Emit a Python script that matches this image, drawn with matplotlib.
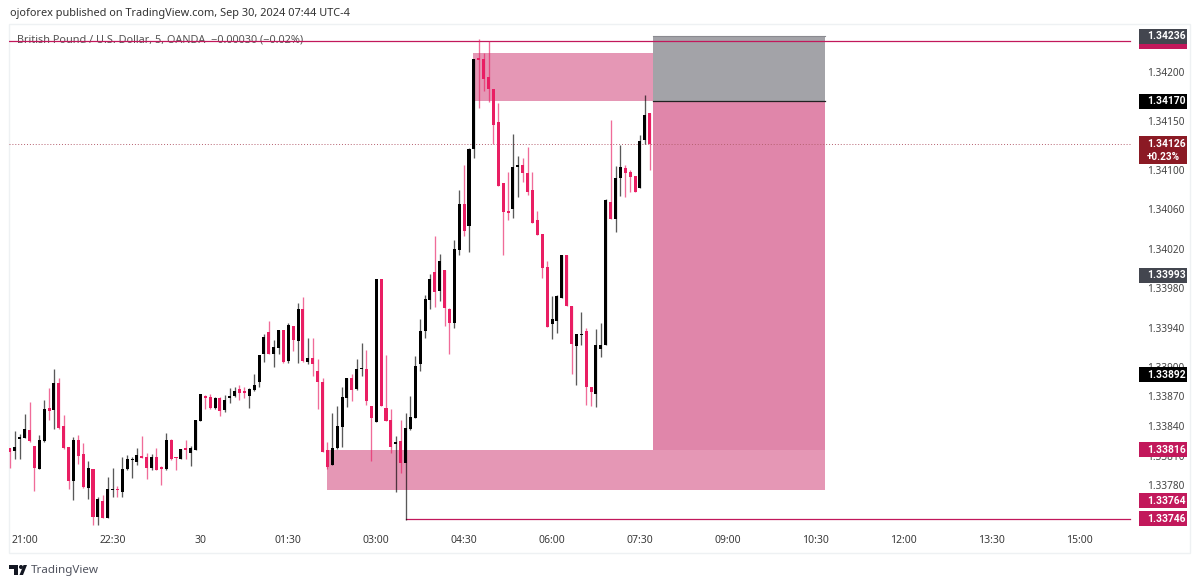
import numpy as np
import matplotlib
matplotlib.use('Agg')
import matplotlib.pyplot as plt
from matplotlib.patches import Rectangle, Polygon, Circle
from matplotlib.transforms import blended_transform_factory

plt.rcParams['font.family'] = ['Noto Sans', 'DejaVu Sans']

# GBPUSD 5 min candles, in 1e-5 price units
opens = [133818,133815,133827,133828,133836,133820,133796,133825,133858,133856,133884,133840,133819,133784,133826,133812,133777,133796,133748,133764,
         133747,133775,133776,133773,133796,133805,133803,133810,133808,133797,133808,133798,133796,133826,133808,133806,133818,133813,133816,133845,
         133870,133869,133858,133868,133856,133868,133870,133878,133876,133870,133877,133885,133913,133935,133913,133919,133937,133906,133942,133926,
         133959,133905,133909,133896,133885,133816,133800,133818,133839,133868,133889,133878,133898,133898,133860,133844,133989,133858,133846,133822,
         133825,133802,133837,133848,133903,133936,133968,133996,133977,133998,133959,133945,134019,134065,134043,134121,134214,134213,134194,134182,
         134149,134087,134058,134060,134103,134105,134097,134080,134049,134035,134001,133944,133947,133970,134014,133962,133921,133932,133936,133880,
         133873,133918,133922,134068,134050,134092,134102,134098,134094,134082,134130,134158]
highs = [133818,133835,133832,133852,133864,133820,133831,133866,133879,133898,133889,133851,133819,133829,133831,133823,133804,133796,133768,133770,
         133788,133797,133779,133808,133811,133809,133818,133830,133813,133812,133818,133799,133833,133827,133809,133817,133826,133820,133846,133872,
         133871,133872,133869,133869,133871,133879,133880,133882,133880,133879,133893,133912,133933,133947,133927,133938,133938,133945,133942,133965,
         133971,133929,133929,133908,133889,133824,133853,133860,133880,133889,133893,133908,133924,133917,133860,133989,133989,133912,133857,133830,
         133846,133853,133870,133911,133949,133973,133994,134033,134015,133998,133960,134029,134080,134105,134122,134213,134233,134219,134231,134182,
         134168,134087,134098,134137,134114,134112,134123,134098,134058,134035,134008,133972,133973,134014,134014,133962,133933,133956,133940,133880,
         133939,133945,134071,134151,134104,134125,134105,134100,134094,134136,134176,134158]
lows = [133797,133806,133806,133828,133824,133774,133796,133824,133846,133837,133837,133817,133776,133765,133801,133777,133766,133739,133739,133747,
        133747,133768,133768,133768,133795,133787,133800,133807,133786,133795,133795,133780,133795,133805,133795,133806,133806,133799,133816,133845,
        133857,133857,133857,133850,133854,133863,133869,133866,133868,133858,133876,133880,133905,133913,133900,133913,133904,133904,133916,133904,
        133905,133903,133891,133857,133814,133796,133800,133817,133819,133859,133865,133877,133891,133861,133804,133844,133860,133845,133813,133773,
        133792,133745,133836,133848,133896,133929,133959,133961,133967,133942,133913,133940,134014,134033,134017,134112,134163,134180,134169,134126,
        134084,134014,134049,134051,134073,134088,134075,134046,134034,133990,133941,133928,133934,133970,133962,133893,133882,133922,133861,133860,
        133859,133910,133922,134050,134037,134074,134073,134078,134078,134082,134126,134100]
closes = [133814,133819,133829,133837,133825,133797,133826,133857,133855,133884,133838,133818,133784,133826,133810,133778,133797,133748,133766,133747,
          133776,133776,133775,133796,133806,133806,133811,133807,133797,133808,133795,133796,133826,133806,133807,133817,133816,133818,133846,133872,
          133868,133858,133868,133855,133866,133870,133876,133874,133874,133878,133882,133912,133930,133913,133920,133937,133905,133943,133927,133959,
          133906,133909,133903,133885,133814,133798,133818,133840,133869,133889,133877,133898,133899,133865,133848,133989,133860,133845,133819,133824,
          133802,133838,133849,133901,133936,133969,133989,133976,134008,133960,133945,134020,134065,134038,134121,134213,134212,134192,134182,134146,
          134084,134057,134056,134103,134105,134097,134078,134046,134034,134000,133941,133949,133972,134014,133962,133923,133933,133933,133880,133875,
          133922,133922,134070,134050,134092,134103,134097,134093,134078,134129,134156,134126]

# price scale ticks
price_ticks = [1.34200, 1.34150, 1.34100, 1.34060, 1.34020, 1.33980, 1.33940, 1.33900, 1.33870, 1.33840, 1.33810, 1.33780]
# time ticks: every 18 bars from bar 3
time_bars = [3, 21, 39, 57, 75, 93, 111, 129, 147, 165, 183, 201, 219]
time_labels = ['21:00', '22:30', '30', '01:30', '03:00', '04:30', '06:00', '07:30', '09:00', '10:30', '12:00', '13:30', '15:00']

# price axis tags, later ones cover earlier ones
tag_prices = [1.34231, 1.34236, 1.34170, 1.33993, 1.33892, 1.33816, 1.33764, 1.33746]
tag_colors = ['#C2185B', '#43464F', '#000000', '#43464F', '#000000', '#C2185B', '#C2185B', '#C2185B']

W, H = 1200, 587
PINK = '#E91E63'
LINE = '#C2185B'
TAG_FONT = ['Roboto', 'DejaVu Sans']

fig = plt.figure(figsize=(W / 100, H / 100), dpi=100, facecolor='white')

# pixel overlay for the frame, header and logo, sits under the chart
bg = fig.add_axes([0, 0, 1, 1])
bg.set_xlim(0, W)
bg.set_ylim(H, 0)
bg.axis('off')
bg.add_patch(Rectangle((9, 24), 1181, 529, fc='none', ec='#EEF1F3', lw=1))
bg.text(10, 13.5, 'ojoforex published on TradingView.com, Sep 30, 2024 07:44 UTC-4', fontsize=7.9, color='#333333', va='center')
bg.text(17, 39.5, 'British Pound / U.S. Dollar, 5, OANDA  \u22120.00030 (\u22120.02%)', fontsize=7.85, color='#555555', va='center')
bg.add_patch(Polygon([(9, 565), (18, 565), (18, 575), (14, 575), (14, 569), (9, 569)], fc='#131722', ec='none'))
bg.add_patch(Circle((21, 567), 2, fc='#131722', ec='none'))
bg.add_patch(Polygon([(19.5, 575), (23.5, 565), (27, 565), (23, 575)], fc='#131722', ec='none'))
bg.text(31, 570, 'TradingView', fontsize=8.4, color='#50535E', va='center')

ax = fig.add_axes([9 / W, 1 - 553 / H, 1130 / W, 529 / H])
ax.patch.set_alpha(0)
for s in ax.spines.values():
    s.set_visible(False)

# 4.883 px per bar, 0.9846 px per 1e-5
ax.set_xlim(-0.2, 231.2)
ax.set_ylim(1.33711, 1.342483)

# position boxes
ax.add_patch(Rectangle((65, 1.33775), 101.9, 0.00041, fc='#E597B5', ec='none', zorder=1))
ax.add_patch(Rectangle((94.8, 1.34170), 36.9, 0.00049, fc='#E597B5', ec='none', zorder=1))
ax.add_patch(Rectangle((131.7, 1.33816), 35.2, 0.00354, fc='#E086AA', ec='none', zorder=1))
ax.add_patch(Rectangle((131.7, 1.34170), 35.2, 0.00066, fc='#A3A3A8', ec='none', zorder=1))
ax.plot([131.7, 166.9], [1.34170, 1.34170], color='#222222', lw=0.9, zorder=1.2)
ax.plot([131.7, 166.9], [1.34236, 1.34236], color='#8A8A90', lw=0.8, zorder=1.2)

# levels
ax.plot([-0.2, 229.4], [1.34231, 1.34231], color=LINE, lw=0.9, zorder=1.5)
ax.plot([81, 229.4], [1.33746, 1.33746], color=LINE, lw=0.9, zorder=1.5)
ax.plot([-0.2, 229.4], [1.34126, 1.34126], color='#B5606F', lw=0.7, ls=(0, (1, 2)), zorder=1.5)

# candles
o = np.array(opens) / 1e5
h = np.array(highs) / 1e5
l = np.array(lows) / 1e5
c = np.array(closes) / 1e5
bars = np.arange(len(o))
colors = np.where(c >= o, '#000000', PINK)
ax.vlines(bars, l, h, colors=colors, lw=0.95, alpha=0.65, zorder=2)
ax.bar(bars, np.abs(c - o), bottom=np.minimum(o, c), width=0.62, color=colors, linewidth=0, zorder=3)

# axes
ax.yaxis.tick_right()
ax.set_yticks(price_ticks)
ax.set_yticklabels(['%.5f' % p for p in price_ticks])
ax.tick_params(axis='y', length=0, pad=5.8, labelsize=7.2, labelcolor='#444444')
ax.set_xticks(time_bars)
ax.set_xticklabels(time_labels)
ax.tick_params(axis='x', length=0, pad=-13, labelsize=7.5, labelcolor='#3A3A3A')

# price tags
tr = blended_transform_factory(ax.transAxes, ax.transData)
x0 = 1.0
tag_w = 48 / 1130
text_x = x0 + 8 / 1130
for i, (p, col) in enumerate(zip(tag_prices, tag_colors)):
    ax.add_patch(Rectangle((x0, p - 0.000076), tag_w, 0.000152, transform=tr, fc=col, ec='none', clip_on=False, zorder=6 + i))
    ax.text(text_x, p, '%.5f' % p, transform=tr, color='white', fontsize=7.4, family=TAG_FONT, fontweight='bold', va='center', clip_on=False, zorder=6.5 + i)
ax.add_patch(Rectangle((x0, 1.34126 - 0.000198), tag_w, 0.00028, transform=tr, fc='#8B1A24', ec='none', clip_on=False, zorder=6))
ax.text(text_x, 1.34126, '1.34126', transform=tr, color='white', fontsize=7.4, family=TAG_FONT, fontweight='bold', va='center', clip_on=False, zorder=6.5)
ax.text(text_x, 1.34126 - 0.000125, '+0.23%', transform=tr, color='white', fontsize=7.2, family=TAG_FONT, fontweight='bold', va='center', clip_on=False, zorder=6.5)

fig.savefig('out.png', dpi=100)
